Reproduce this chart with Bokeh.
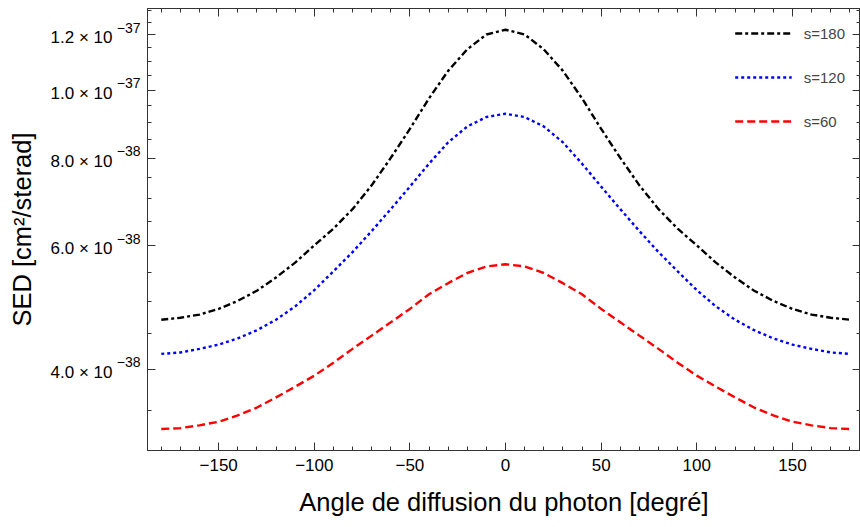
import math
from bokeh.plotting import figure
from bokeh.models import FixedTicker, LinearAxis, LogAxis, Range1d, LogScale
from bokeh.embed import file_html
from bokeh.resources import INLINE

# ---- data (angle in degrees, SED in units of 1e-38 cm^2/sterad) ----
angles = [-180, -170, -160, -150, -140, -130, -120, -110, -100, -90, -80, -70, -60,
          -50, -40, -30, -20, -10, 0, 10, 20, 30, 40, 50, 60, 70, 80, 90, 100,
          110, 120, 130, 140, 150, 160, 170, 180]
sed_s180 = [4.71, 4.74, 4.79, 4.88, 5.01, 5.18, 5.41, 5.68, 6.01, 6.35, 6.77, 7.32, 8.01,
            8.81, 9.74, 10.66, 11.44, 12.01, 12.20, 12.01, 11.44, 10.66, 9.74, 8.81, 8.01,
            7.32, 6.77, 6.35, 6.01, 5.68, 5.41, 5.18, 5.01, 4.88, 4.79, 4.74, 4.71]
sed_s120 = [4.21, 4.23, 4.28, 4.34, 4.43, 4.55, 4.71, 4.92, 5.19, 5.52, 5.88, 6.30, 6.77,
            7.29, 7.86, 8.43, 8.88, 9.16, 9.26, 9.16, 8.88, 8.43, 7.86, 7.29, 6.77,
            6.30, 5.88, 5.52, 5.19, 4.92, 4.71, 4.55, 4.43, 4.34, 4.28, 4.23, 4.21]
sed_s60 = [3.29, 3.30, 3.33, 3.37, 3.44, 3.53, 3.65, 3.78, 3.92, 4.09, 4.28, 4.47, 4.67,
           4.88, 5.12, 5.31, 5.49, 5.61, 5.65, 5.61, 5.49, 5.31, 5.12, 4.88, 4.67,
           4.47, 4.28, 4.09, 3.92, 3.78, 3.65, 3.53, 3.44, 3.37, 3.33, 3.30, 3.29]
series_labels = ["s=180", "s=120", "s=60"]
unit = 1e-38

x_ticks = [-150, -100, -50, 0, 50, 100, 150]
x_tick_labels = ["\u2212150", "\u2212100", "\u221250", "0", "50", "100", "150"]
x_minor = list(range(-180, 190, 10))
y_ticks = [4e-38, 6e-38, 8e-38, 1e-37, 1.2e-37]
y_tick_mantissa = ["4.0 \u00d7 10", "6.0 \u00d7 10", "8.0 \u00d7 10", "1.0 \u00d7 10", "1.2 \u00d7 10"]
y_tick_exponent = ["\u221238", "\u221238", "\u221238", "\u221237", "\u221237"]
y_minor = [3.5e-38, 4.5e-38, 5e-38, 5.5e-38, 6.5e-38, 7e-38, 7.5e-38, 8.5e-38, 9e-38,
           9.5e-38, 1.05e-37, 1.1e-37, 1.15e-37, 1.25e-37, 1.3e-37]

FONT = "Liberation Sans"
AX = "#333333"
Y0, Y1 = 3.066e-38, 1.308e-37
FRAME_H = 442
px_per_ln = FRAME_H / math.log(Y1 / Y0)

def shifted_range(px_up):
    f = math.exp(-px_up / px_per_ln)
    return Range1d(Y0 * f, Y1 * f)

p = figure(width=860, height=527, output_backend="svg", toolbar_location=None,
           y_axis_type="log",
           x_range=Range1d(-187.2, 185.6), y_range=Range1d(Y0, Y1),
           min_border_left=147, min_border_right=0, min_border_top=8,
           min_border_bottom=77)
p.extra_y_ranges = {"exp": shifted_range(7), "man": shifted_range(-3)}
p.extra_y_scales = {"exp": LogScale(), "man": LogScale()}
p.grid.visible = False
p.outline_line_color = AX
p.background_fill_color = "white"
p.border_fill_color = "white"

ys = [[v * unit for v in sed_s180], [v * unit for v in sed_s120], [v * unit for v in sed_s60]]
styles = [("black", "7 3 3 3"), ("blue", "3 3"), ("red", "8 4")]
for y, lab, (col, dash) in zip(ys, series_labels, styles):
    p.line(angles, y, line_color=col, line_width=2.4, line_dash=dash, legend_label=lab)

xt = FixedTicker(ticks=x_ticks, minor_ticks=x_minor)
yt = FixedTicker(ticks=y_ticks, minor_ticks=y_minor)

def style_axis(ax, labels=True, ticks=True):
    ax.axis_line_color = AX if ticks else None
    ax.major_tick_line_color = AX if ticks else None
    ax.minor_tick_line_color = AX if ticks else None
    ax.major_tick_in = 8 if ticks else 0
    ax.major_tick_out = 0
    ax.minor_tick_in = 4 if ticks else 0
    ax.minor_tick_out = 0
    ax.major_label_text_font = FONT
    ax.major_label_text_color = "black"
    ax.axis_label_text_font = FONT
    ax.axis_label_text_font_style = "normal"
    ax.axis_label_text_color = "black"
    if not labels:
        ax.major_label_text_font_size = "0px"
        ax.major_label_standoff = 0

xa = p.xaxis[0]
xa.ticker = xt
xa.major_label_overrides = dict(zip(x_ticks, x_tick_labels))
style_axis(xa)
xa.major_label_text_font_size = "17px"
xa.major_label_standoff = 8
xa.axis_label = "Angle de diffusion du photon [degré]"
xa.axis_label_text_font_size = "25.5px"
xa.axis_label_standoff = 14

# inner left axis: frame ticks only
ya = p.yaxis[0]
ya.ticker = yt
style_axis(ya, labels=False)
ya.major_label_overrides = {t: "" for t in y_ticks}

# exponents (superscripts) of the y tick labels
ye = LogAxis(ticker=yt, y_range_name="exp",
             major_label_overrides=dict(zip(y_ticks, y_tick_exponent)))
style_axis(ye, ticks=False)
ye.major_label_text_font_size = "14px"
ye.major_label_standoff = 7
p.add_layout(ye, "left")

# mantissas of the y tick labels + axis title
ym = LogAxis(ticker=yt, y_range_name="man",
             major_label_overrides=dict(zip(y_ticks, y_tick_mantissa)))
style_axis(ym, ticks=False)
ym.major_label_text_font_size = "17px"
ym.major_label_standoff = 1
ym.axis_label = "SED [cm\u00b2/sterad]"
ym.axis_label_text_font_size = "25.5px"
ym.axis_label_standoff = 12
p.add_layout(ym, "left")

top = LinearAxis(ticker=xt, major_label_overrides={t: "" for t in x_ticks})
style_axis(top, labels=False)
p.add_layout(top, "above")
right = LogAxis(ticker=yt, major_label_overrides={t: "" for t in y_ticks})
style_axis(right, labels=False)
p.add_layout(right, "right")

lg = p.legend[0]
lg.location = "top_right"
lg.border_line_alpha = 0
lg.background_fill_alpha = 0
lg.label_text_font = FONT
lg.label_text_font_size = "15px"
lg.glyph_width = 57
lg.glyph_height = 20
lg.label_height = 20
lg.spacing = 24
lg.padding = 5
lg.margin = 10
lg.label_standoff = 12

open("out.html", "w").write(file_html(p, INLINE))
